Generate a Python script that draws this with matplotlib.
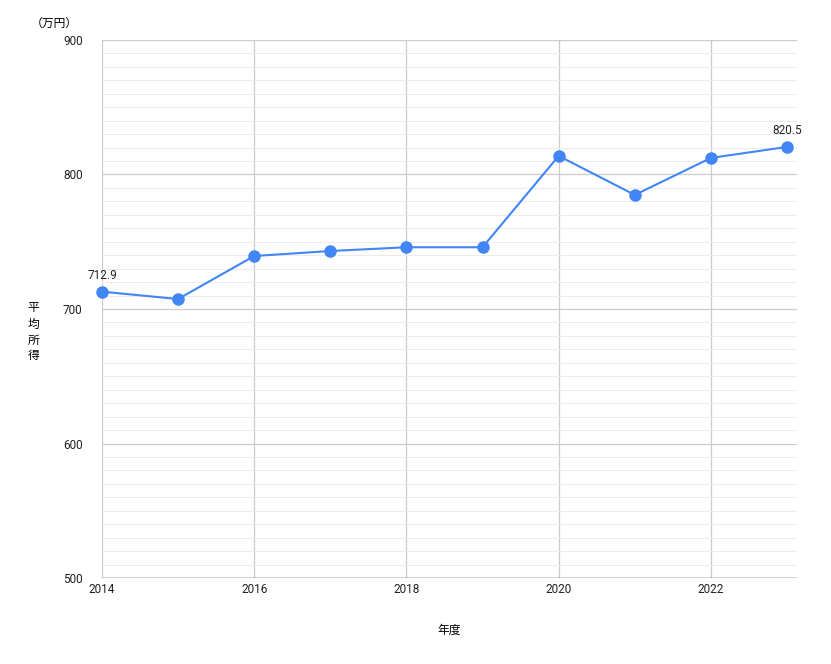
import matplotlib.pyplot as plt
import numpy as np

plt.rcParams['font.family'] = ['Roboto', 'Noto Sans CJK JP', 'DejaVu Sans']

years = [2014, 2015, 2016, 2017, 2018, 2019, 2020, 2021, 2022, 2023]
income = [712.9, 707.4, 739.4, 743.1, 745.9, 745.9, 813.8, 784.8, 812.3, 820.5]

line_color = '#4285f4'

fig = plt.figure(figsize=(8.31, 6.64), dpi=100)
ax = fig.add_axes([0.1227, 0.1295, 0.8363, 0.8103])

ax.plot(years, income, color=line_color, lw=1.5, marker='o', ms=8, zorder=3, clip_on=False)
ax.annotate(f'{income[0]}', (years[0], income[0]), xytext=(0, 7), textcoords='offset points',
            ha='center', va='bottom', fontsize=8.5, color='#222222')
ax.annotate(f'{income[-1]}', (years[-1], income[-1]), xytext=(0, 7), textcoords='offset points',
            ha='center', va='bottom', fontsize=8.5, color='#222222')

ax.set_xlim(2014, 2023.13)
ax.set_ylim(500, 900)
ax.set_xticks([2014, 2016, 2018, 2020, 2022])
ax.set_yticks([500, 600, 700, 800, 900])
ax.set_yticks(np.arange(500, 901, 10), minor=True)
ax.grid(axis='y', which='major', color='#cccccc', lw=0.9)
ax.grid(axis='y', which='minor', color='#ebebeb', lw=0.7)
ax.grid(axis='x', which='major', color='#cccccc', lw=0.9)
ax.tick_params(which='both', length=0, labelsize=8.5, colors='#222222')
ax.tick_params(axis='y', pad=14)
for s in ax.spines.values():
    s.set_visible(False)
ax.axhline(500, color='#333333', lw=1, zorder=2)

ax.set_xlabel('年度', fontsize=8.5, labelpad=20, family=['Noto Sans CJK JP'])
fig.text(0.04, 0.5, '平\n均\n所\n得', fontsize=8.5, ha='center', va='center', linespacing=1.3,
         family=['Noto Sans CJK JP'])
fig.text(0.037, 0.965, '（万円）', fontsize=8.5, ha='left', va='center', family=['Noto Sans CJK JP'])

fig.savefig('out.png', dpi=100)
